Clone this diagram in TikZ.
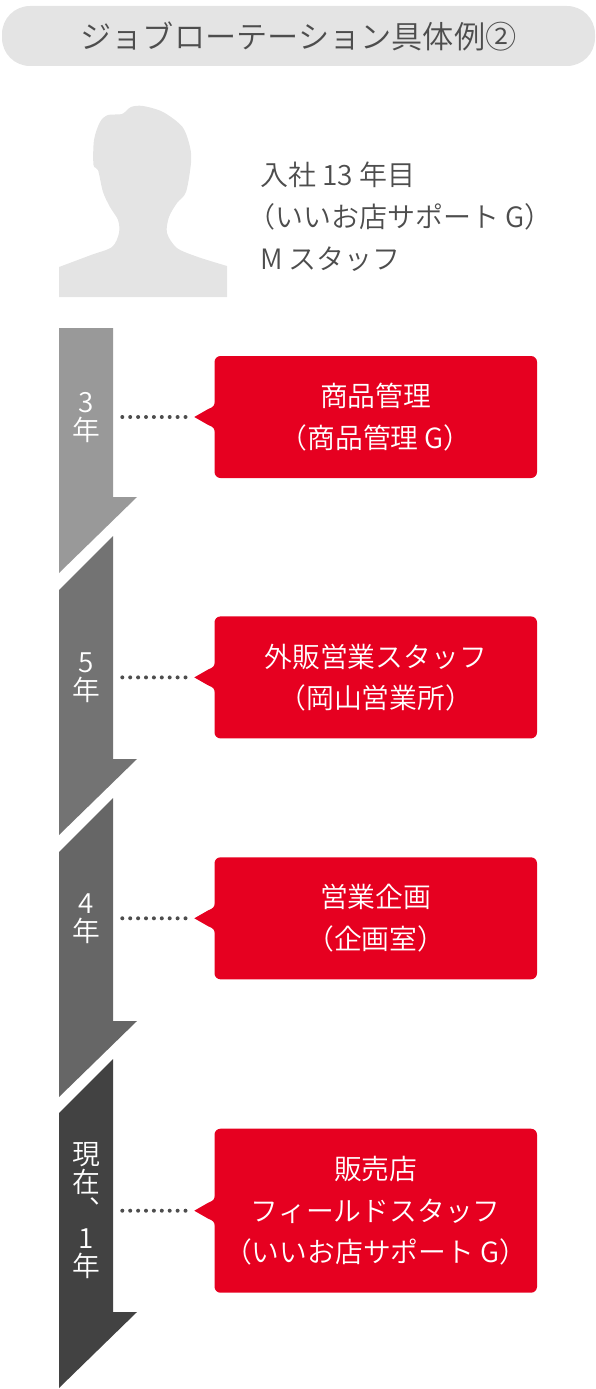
\documentclass[tikz,border=0pt]{standalone}
\usepackage{xcolor}
\usepackage{fontspec}
\usepackage{tikz}
\usetikzlibrary{positioning}
\setmainfont{Noto Sans CJK JP}[UprightFont=* DemiLight]
\definecolor{titlegray}{HTML}{E4E4E4}
\definecolor{textgray}{HTML}{4D4D4D}
\definecolor{deptred}{HTML}{E60020}
\definecolor{barA}{HTML}{999999}
\definecolor{barB}{HTML}{737373}
\definecolor{barC}{HTML}{666666}
\definecolor{barD}{HTML}{424242}

\begin{document}
\begin{tikzpicture}[
    x=1pt, y=-1pt,
    titlebar/.style={fill=titlegray, text=textgray, rounded corners=28pt, inner sep=0pt,
      minimum width=593pt, minimum height=60pt, font=\fontsize{31.2}{36}\selectfont},
    intro/.style={text=textgray, align=left, anchor=west, inner sep=0pt,
      font=\fontsize{28}{42}\selectfont},
    dept/.style={fill=deptred, text=white, rounded corners=6pt, align=center, inner sep=0pt,
      minimum width=322.5pt, font=\fontsize{27.8}{41.5}\selectfont},
    term/.style={text=white, align=center, inner sep=0pt, font=\fontsize{27.8}{28}\selectfont},
    dotline/.style={draw=textgray, line width=4pt, line cap=round, dash pattern=on 0pt off 7.9pt},
    pointer/.pic={
      \fill[deptred] (1,-16) .. controls (0,-11) and (-1,-10) .. (-6,-8) -- (-20,0)
        -- (-6,8) .. controls (-1,10) and (0,11) .. (1,16) -- cycle;
    }
  ]
    \useasboundingbox (0,0) rectangle (596,1389);
    \node[titlebar] (title) at (298.5,36) {ジョブローテーション具体例②};

    % person
    \fill[titlegray] (59,297) -- (59,267) -- plot[smooth] coordinates {(59,267) (91,255) (112,247)
      (119,233) (118,220) (110,207) (103,192) (98,170) (93.5,165) (94,140) (100,122) (108,115)
      (122,114) (131,107) (143,106) (163,112) (182.5,127) (190,147) (191,163) (186,192) (177,203)
      (169,217) (167,233) (177,248) (198,257) (227,266)} -- (227,297) -- cycle;
    \node[intro] (profile) at (260,217) {入社 13 年目\\\hspace{-13pt}（いいお店サポート G）\\M スタッフ};

    % bars
    \fill[barA] (59,328) -- (113,328) -- (113,497) -- (137,497) -- (59,573) -- cycle;
    \fill[barB] (113,536) -- (113,759) -- (137,759) -- (59,835) -- (59,590) -- cycle;
    \fill[barC] (113,798) -- (113,1021) -- (137,1021) -- (59,1097) -- (59,852) -- cycle;
    \fill[barD] (113,1059) -- (113,1312) -- (137,1312) -- (59,1388) -- (59,1113) -- cycle;

    \node[dept, minimum height=122pt] (dept1) at (375.75,417) {商品管理\\（商品管理 G）};
    \node[dept, minimum height=122pt, below=138pt of dept1] (dept2) {外販営業スタッフ\\（岡山営業所）};
    \node[dept, minimum height=122pt, below=118.5pt of dept2] (dept3) {営業企画\\（企画室）};
    \node[dept, minimum height=164pt, below=149pt of dept3] (dept4) {販売店\\フィールドスタッフ\\（いいお店サポート G）};

    \node[term] (term1) at (86,418) {3\\年};
    \node[term] (term2) at (86,678) {5\\年};
    \node[term] (term3) at (86,919) {4\\年};
    \node[term] (term4) at (86,1211) {現\\在\\︑\\1\\年};

    \pic at (dept1.west) {pointer};
    \pic at (dept2.west) {pointer};
    \pic at (dept3.west) {pointer};
    \pic at (dept4.west) {pointer};

    \coordinate (from1) at ([xshift=-92pt]dept1.west);
    \coordinate (to1) at ([xshift=-28pt]dept1.west);
    \coordinate (from2) at ([xshift=-92pt]dept2.west);
    \coordinate (to2) at ([xshift=-28pt]dept2.west);
    \coordinate (from3) at ([xshift=-92pt]dept3.west);
    \coordinate (to3) at ([xshift=-28pt]dept3.west);
    \coordinate (from4) at ([xshift=-92pt]dept4.west);
    \coordinate (to4) at ([xshift=-28pt]dept4.west);
    \draw[dotline] (from1) -- (to1);
    \draw[dotline] (from2) -- (to2);
    \draw[dotline] (from3) -- (to3);
    \draw[dotline] (from4) -- (to4);
  \end{tikzpicture}
\end{document}
